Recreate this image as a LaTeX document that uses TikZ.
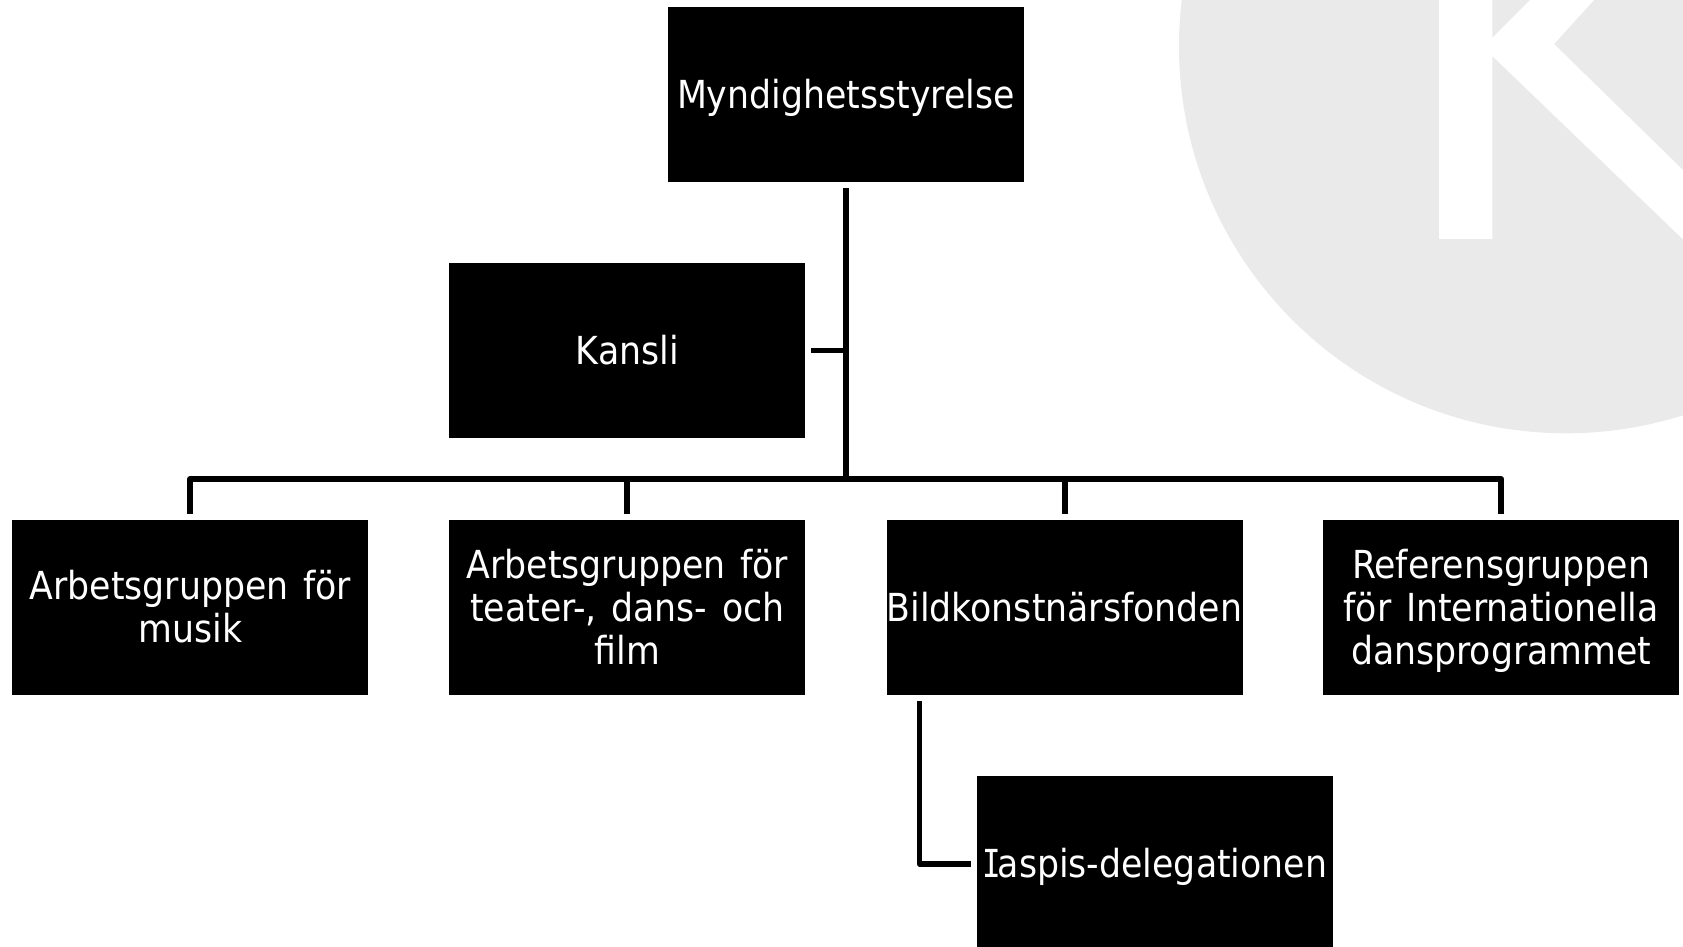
\documentclass[tikz,border=0pt]{standalone}
\usepackage{fontspec}
\setmainfont{DejaVu Sans Condensed}
\newfontfamily\serifI[FakeStretch=0.8]{DejaVu Sans Mono}
\newcommand{\topstrut}{\rule{0pt}{18.8pt}}
\newcommand{\botstrut}{\rule[-5pt]{0pt}{5pt}}
\newcommand{\boxfont}{\fontsize{19.3pt}{21.5pt}\selectfont\spaceskip 7.3pt\relax}
\begin{document}
\begin{tikzpicture}[x=0.5pt,y=-0.5pt,
  orgbox/.style={fill=black,draw=none,text=white,minimum width=178pt,minimum height=87.5pt,inner sep=0pt,align=center,font=\boxfont},
  conn/.style={draw=black,line width=2.75pt,line join=round},
  mainconn/.style={draw=black,line width=3pt,line join=round}]
\useasboundingbox (0,0) rectangle (1683,947);
\definecolor{logogrey}{HTML}{EAEAEA}
\begin{scope}
\clip (0,0) rectangle (1683,947);
\fill[logogrey] (1566,46.3) circle[radius=387];
\fill[white] (1439,0) -- (1439,239) -- (1492.3,239) -- (1492.3,56) -- (1683,239.3) -- (1683,170) -- (1554,44) -- (1594,0) -- (1530,0) -- (1492.3,37.7) -- (1492.3,0) -- cycle;
\end{scope}
\node[orgbox] (top) at (845.8,94.5) {\topstrut Myndighetsstyrelse\botstrut};
\node[orgbox] (kansli) at (627.3,350.6) {\topstrut Kansli\botstrut};
\node[orgbox] (musik) at (190.4,607.5) {\topstrut Arbetsgruppen för\\musik\botstrut};
\node[orgbox] (teater) at (627.3,607.5) {\topstrut Arbetsgruppen för\\teater-, dans- och\\film\botstrut};
\node[orgbox] (bild) at (1064.5,607.5) {\topstrut Bildkonstnärsfonden\botstrut};
\node[orgbox] (ref) at (1501.2,607.5) {\topstrut Referensgruppen\\för Internationella\\dansprogrammet\botstrut};
\node[orgbox] (iaspis) at (1154.8,863.8) {\topstrut{\serifI I}\kern-1.6pt aspis-delegationen\botstrut};
\coordinate (bus) at (846,479);
\draw[mainconn,shorten <=3pt] (top.south) -- (top.south |- bus);
\draw[conn,shorten <=2.7pt] (kansli.east) -- (kansli.east -| top.south);
\draw[mainconn,shorten >=2.8pt] (top.south |- bus) -| (musik.north);
\draw[mainconn,shorten >=2.8pt] (top.south |- bus) -| (teater.north);
\draw[mainconn,shorten >=2.8pt] (top.south |- bus) -| (bild.north);
\draw[mainconn,shorten >=2.8pt] (top.south |- bus) -| (ref.north);
\draw[conn,shorten <=2.7pt,shorten >=2.7pt] ([xshift=16.7pt]bild.south west) |- (iaspis.west);
\end{tikzpicture}
\end{document}
